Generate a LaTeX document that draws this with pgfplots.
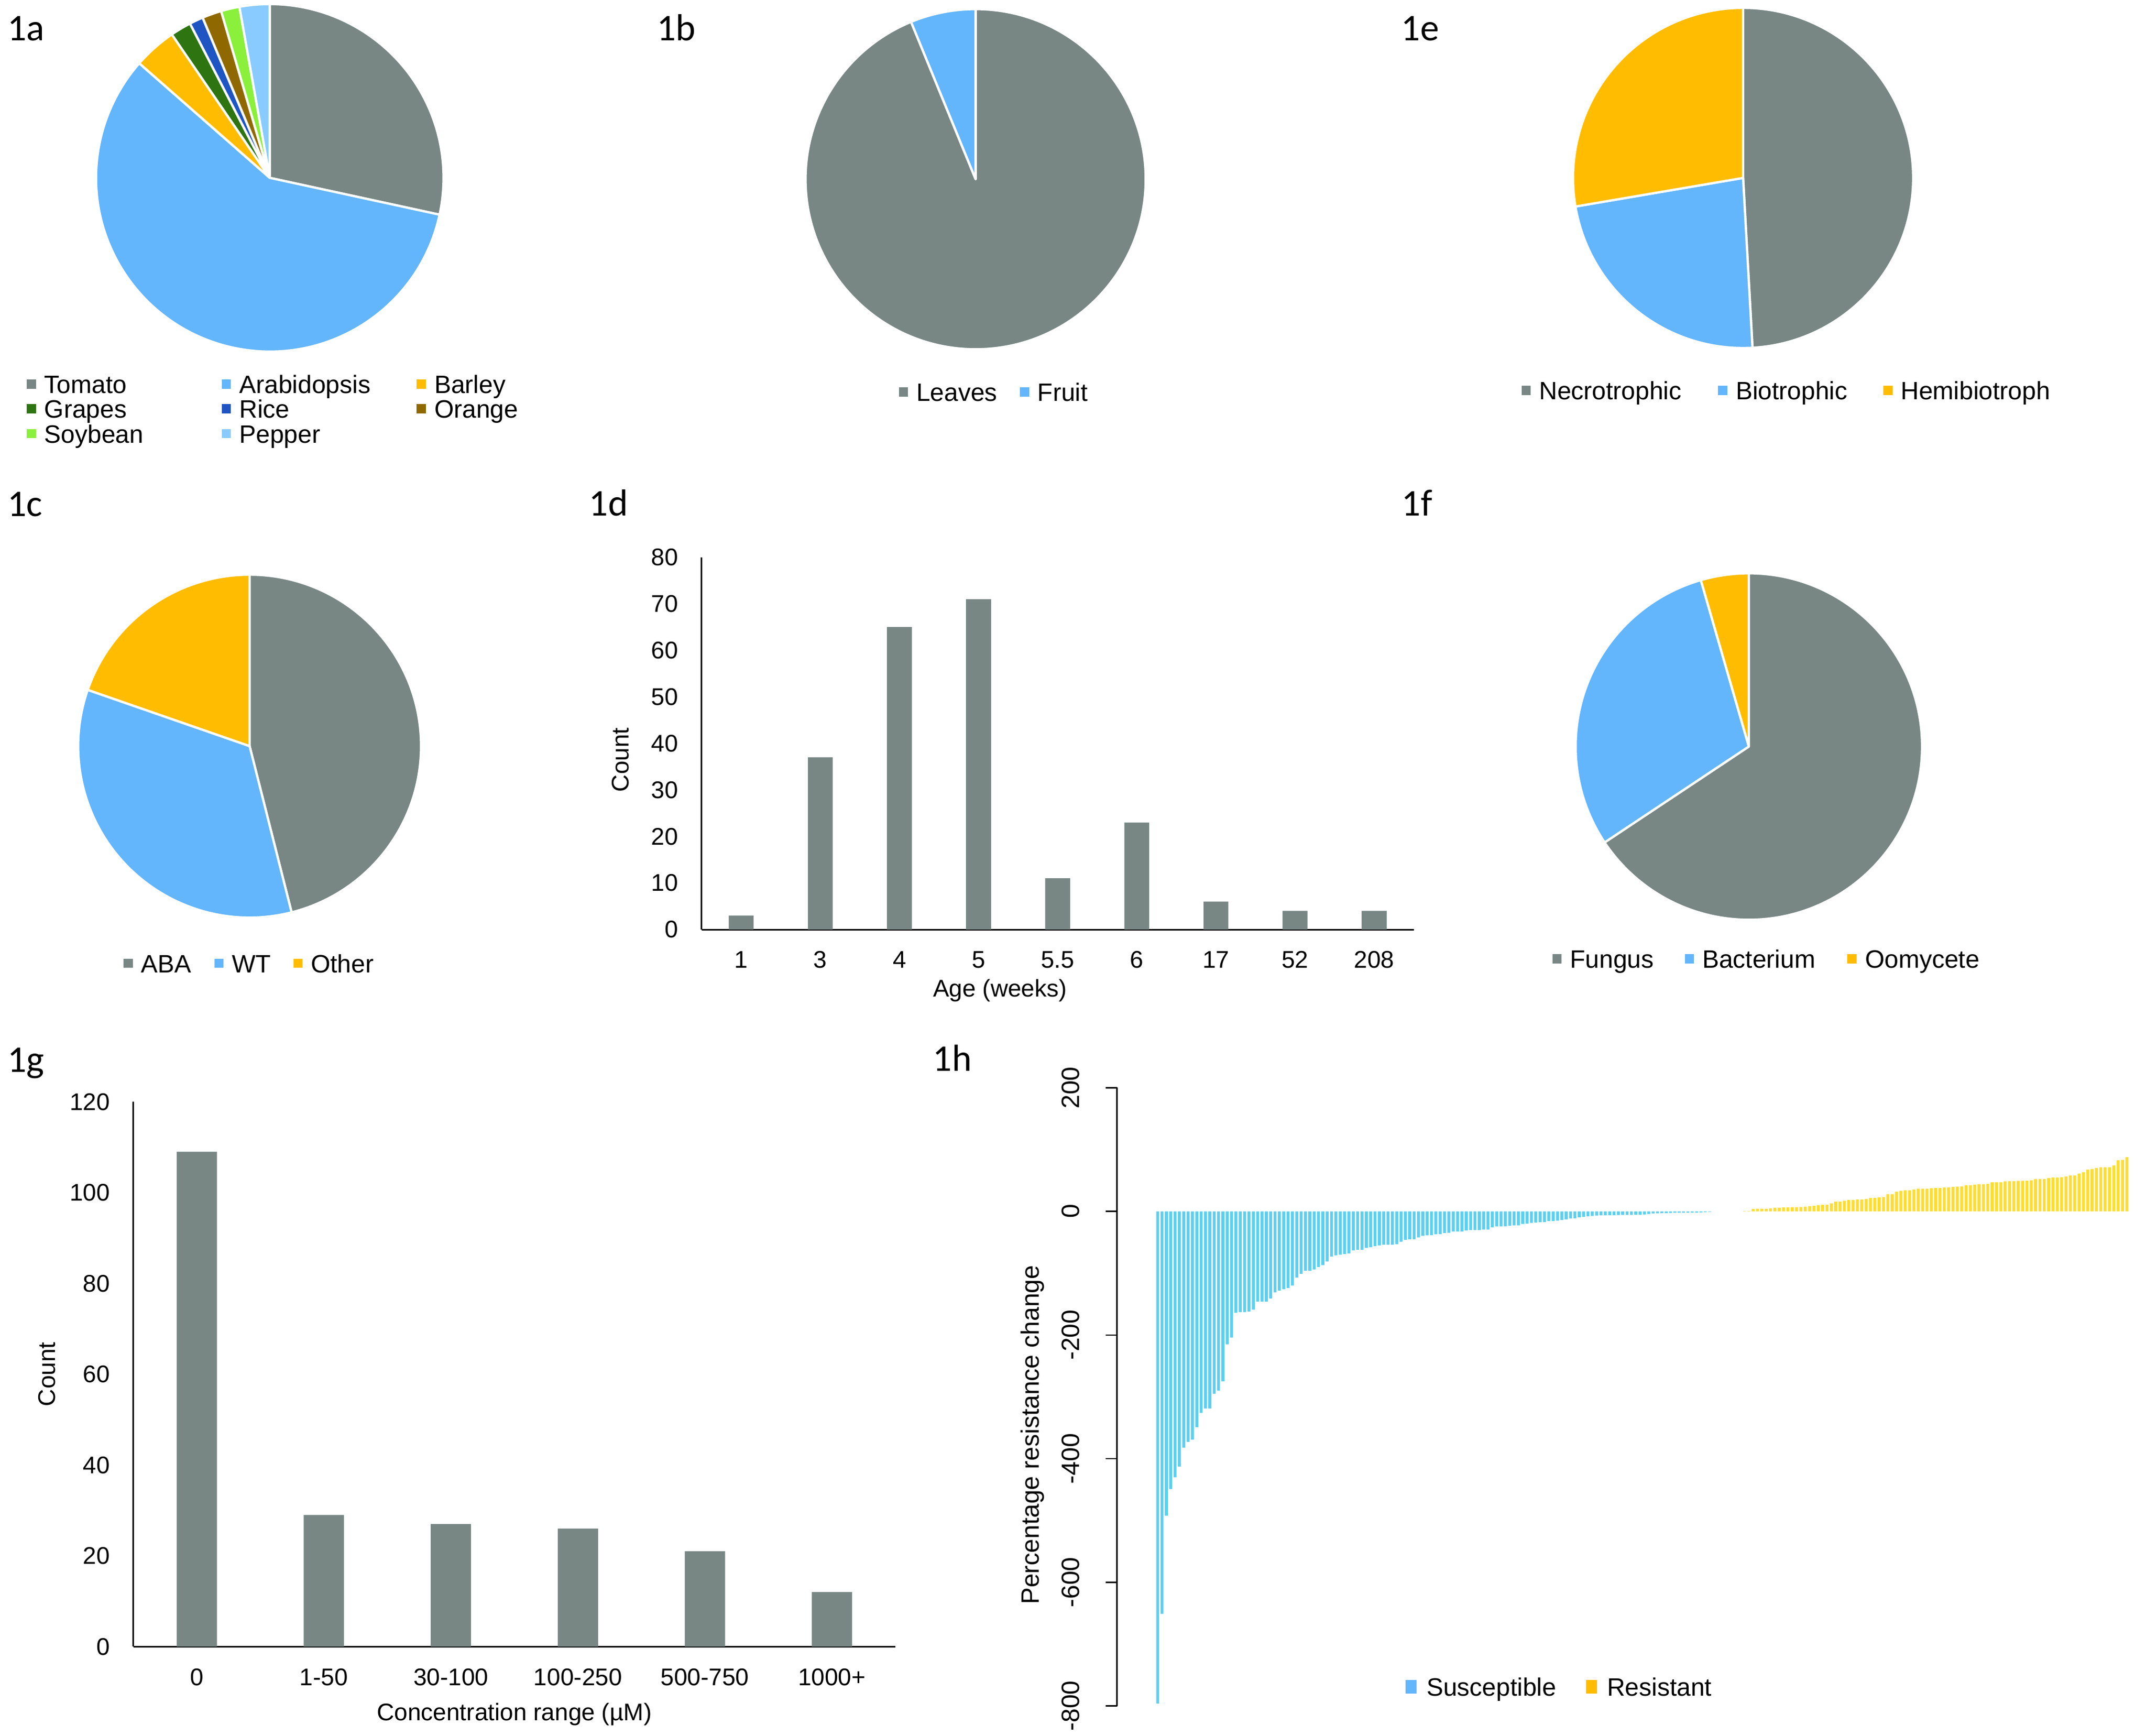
\documentclass[border=0pt]{standalone}
\usepackage{fontspec}
\setmainfont{Liberation Sans}
\newfontfamily\panelfont{Carlito}
\usepackage{pgfplots}
\pgfplotsset{compat=1.18}

\definecolor{cgray}{RGB}{120,135,132}
\definecolor{cblue}{RGB}{99,181,252}
\definecolor{camber}{RGB}{255,188,0}
\definecolor{cgreen}{RGB}{46,117,18}
\definecolor{crice}{RGB}{30,85,195}
\definecolor{cbrown}{RGB}{143,105,0}
\definecolor{csoy}{RGB}{138,240,60}
\definecolor{cpepper}{RGB}{138,203,255}
\definecolor{hblue}{RGB}{92,208,240}
\definecolor{hyellow}{RGB}{253,221,50}

% one pie slice, clockwise from \piestart: \pieslice{radius}{percent}{colour}
\newcommand\pieslice[3]{%
  \pgfmathsetmacro\pieend{\piestart-3.6*#2}%
  \edef\temp{\noexpand\fill[#3,draw=white,line width=1.1pt,line join=round]
    (axis cs:0,0) -- ++(\piestart:#1) arc[start angle=\piestart,end angle=\pieend,radius=#1] -- cycle;}%
  \temp
  \global\let\piestart\pieend}
% legend text of fixed width, with a strut centred on the capitals
\newcommand\lt[2]{\makebox[#1][l]{\rule[-1.75pt]{0pt}{12.1pt}#2}}
\newcommand\lf{\rule[-1.75pt]{0pt}{12.1pt}}
\newcommand\panel{\panelfont\fontsize{18}{20}\selectfont}

\pgfplotsset{
  pie/.style={hide axis, scale only axis, xmin=-1, xmax=1, ymin=-1, ymax=1, clip=false,
    legend cell align=left,
    legend style={draw=none, fill=none, inner sep=0pt, row sep=0pt, nodes={inner sep=0pt},
      /tikz/every odd column/.append style={column sep=4pt},
      font=\fontsize{12}{12.1}\selectfont},
    legend image code/.code={\fill[##1, draw=none] (0pt,-2.2pt) rectangle (4.4pt,2.2pt);}},
  excelbar/.style={scale only axis, axis x line*=bottom, axis y line*=left,
    axis line style={black, line width=0.75pt, -}, major tick length=0pt,
    ymin=0, enlargelimits=false,
    /pgf/number format/assume math mode=true,
    tick label style={font=\fontsize{11.5}{13}\selectfont, inner sep=0pt},
    label style={font=\fontsize{11.5}{13}\selectfont},
    yticklabel style={anchor=east, xshift=-11pt},
    xticklabel style={anchor=center, yshift=-14.5pt},
    ylabel style={anchor=center}, xlabel style={anchor=center}},
}

\begin{document}
\begin{tikzpicture}
\useasboundingbox (0,0) rectangle (1025.25pt,-829.25pt);

% panel letters
\node[anchor=base west, font=\panel] at (0pt,-19.4pt) {1a};
\node[anchor=base west, font=\panel] at (310.3pt,-19.4pt) {1b};
\node[anchor=base west, font=\panel] at (665.9pt,-19.4pt) {1e};
\node[anchor=base west, font=\panel] at (0pt,-246.5pt) {1c};
\node[anchor=base west, font=\panel] at (277.9pt,-246.25pt) {1d};
\node[anchor=base west, font=\panel] at (666.1pt,-246.25pt) {1f};
\node[anchor=base west, font=\panel] at (0pt,-512pt) {1g};
\node[anchor=base west, font=\panel] at (442.1pt,-511.5pt) {1h};

% 1a  host species (percent)
\begin{axis}[pie, at={(128.9pt,-84.95pt)}, anchor=center, width=166pt, height=166pt,
  legend columns=3, legend style={at={(-0.2005,-0.0566)}, anchor=north west}]
\gdef\piestart{90}
\pieslice{83pt}{28.4}{cgray}
\pieslice{83pt}{58.06}{cblue}
\pieslice{83pt}{4.0}{camber}
\pieslice{83pt}{1.94}{cgreen}
\pieslice{83pt}{1.28}{crice}
\pieslice{83pt}{1.8}{cbrown}
\pieslice{83pt}{1.72}{csoy}
\pieslice{83pt}{2.8}{cpepper}
\addlegendimage{fill=cgray}\addlegendentry{\lt{84.75pt}{Tomato}}
\addlegendimage{fill=cblue}\addlegendentry{\lt{84.75pt}{Arabidopsis}}
\addlegendimage{fill=camber}\addlegendentry{\lf Barley}
\addlegendimage{fill=cgreen}\addlegendentry{\lt{84.75pt}{Grapes}}
\addlegendimage{fill=crice}\addlegendentry{\lt{84.75pt}{Rice}}
\addlegendimage{fill=cbrown}\addlegendentry{\lf Orange}
\addlegendimage{fill=csoy}\addlegendentry{\lt{84.75pt}{Soybean}}
\addlegendimage{fill=cpepper}\addlegendentry{\lt{84.75pt}{Pepper}}
\end{axis}

% 1b  tissue
\begin{axis}[pie, at={(466.1pt,-85.6pt)}, anchor=center, width=162.5pt, height=162.5pt,
  legend columns=2, legend style={at={(0.2728,-0.1255)}, anchor=west}]
\gdef\piestart{90}
\pieslice{81.25pt}{93.8}{cgray}
\pieslice{81.25pt}{6.2}{cblue}
\addlegendimage{fill=cgray}\addlegendentry{\lt{49.5pt}{Leaves}}
\addlegendimage{fill=cblue}\addlegendentry{\lf Fruit}
\end{axis}

% 1e  lifestyle
\begin{axis}[pie, at={(832.75pt,-85pt)}, anchor=center, width=162.5pt, height=162.5pt,
  legend columns=3, legend style={at={(-0.1523,-0.1246)}, anchor=west}]
\gdef\piestart{90}
\pieslice{81.25pt}{49.12}{cgray}
\pieslice{81.25pt}{23.19}{cblue}
\pieslice{81.25pt}{27.69}{camber}
\addlegendimage{fill=cgray}\addlegendentry{\lt{85.5pt}{Necrotrophic}}
\addlegendimage{fill=cblue}\addlegendentry{\lt{70.5pt}{Biotrophic}}
\addlegendimage{fill=camber}\addlegendentry{\lf Hemibiotroph}
\end{axis}

% 1c  genotype
\begin{axis}[pie, at={(119.25pt,-356.4pt)}, anchor=center, width=163.8pt, height=163.8pt,
  legend columns=3, legend style={at={(0.1308,-0.1335)}, anchor=west}]
\gdef\piestart{90}
\pieslice{81.9pt}{46.06}{cgray}
\pieslice{81.9pt}{34.26}{cblue}
\pieslice{81.9pt}{19.68}{camber}
\addlegendimage{fill=cgray}\addlegendentry{\lt{35pt}{ABA}}
\addlegendimage{fill=cblue}\addlegendentry{\lt{29.4pt}{WT}}
\addlegendimage{fill=camber}\addlegendentry{\lf Other}
\end{axis}

% 1f  pathogen type
\begin{axis}[pie, at={(835.5pt,-356.6pt)}, anchor=center, width=165.5pt, height=165.5pt,
  legend columns=3, legend style={at={(-0.068,-0.1127)}, anchor=west}]
\gdef\piestart{90}
\pieslice{82.75pt}{65.66}{cgray}
\pieslice{82.75pt}{29.87}{cblue}
\pieslice{82.75pt}{4.47}{camber}
\addlegendimage{fill=cgray}\addlegendentry{\lt{54.8pt}{Fungus}}
\addlegendimage{fill=cblue}\addlegendentry{\lt{69.3pt}{Bacterium}}
\addlegendimage{fill=camber}\addlegendentry{\lf Oomycete}
\end{axis}

% 1d  age
\begin{axis}[excelbar, at={(335.2pt,-444pt)}, anchor=south west, width=340.2pt, height=177.8pt,
  xmin=0.5, xmax=9.5, ymax=80, ytick={0,10,...,80},
  xtick={1,...,9}, xticklabels={1,3,4,5,5.5,6,17,52,208},
  xlabel={Age (weeks)}, ylabel={Count},
  xlabel style={at={(axis description cs:0.419,-0.164)}},
  ylabel style={at={(axis description cs:-0.114,0.456)}}]
\addplot[ybar, bar width=0.315, bar shift=0pt, fill=cgray, draw=none]
  coordinates {(1,3) (2,37) (3,65) (4,71) (5,11) (6,23) (7,6) (8,4) (9,4)};
\end{axis}

% 1g  concentration
\begin{axis}[excelbar, at={(63.7pt,-786.55pt)}, anchor=south west, width=364.1pt, height=260.25pt,
  xmin=0.5, xmax=6.5, ymax=120, ytick={0,20,...,120},
  xtick={1,...,6}, xticklabels={0,1-50,30-100,100-250,500-750,1000+},
  xlabel={Concentration range (µM)}, ylabel={Count},
  xlabel style={at={(axis description cs:0.5,-0.124)}},
  ylabel style={at={(axis description cs:-0.1136,0.5)}}]
\addplot[ybar, bar width=0.317, bar shift=0pt, fill=cgray, draw=none]
  coordinates {(1,109) (2,29) (3,27) (4,26) (5,21) (6,12)};
\end{axis}

% 1h  resistance change per study
\begin{axis}[at={(533.65pt,-814.9pt)}, anchor=south west, scale only axis,
  width=486.6pt, height=295.3pt,
  xmin=-8.36, xmax=226, ymin=-800, ymax=200,
  hide x axis, axis y line*=left,
  axis line style={black, line width=0.6pt, -},
  ytick={-800,-600,-400,-200,0,200}, yticklabels={-800,-600,-400,-200,0,200},
  tick align=outside, major tick length=5.5pt, tick style={black, line width=0.6pt},
  yticklabel style={xshift=-12.15pt, rotate=90, anchor=south, inner sep=0pt,
    font=\fontsize{12}{13}\selectfont},
  ylabel={Percentage resistance change},
  ylabel style={at={(axis description cs:-0.083,0.4384)}, anchor=center,
    font=\fontsize{12}{13}\selectfont},
  legend columns=2, legend cell align=left,
  legend style={at={(0.2828,0.0309)}, anchor=west, draw=none, fill=none, inner sep=0pt,
    nodes={inner sep=0pt}, /tikz/every odd column/.append style={column sep=4.75pt},
    font=\fontsize{12}{12.1}\selectfont},
  legend image code/.code={\fill[#1, draw=none] (0pt,-3.25pt) rectangle (5.3pt,3.25pt);}]
\addplot[ybar, bar width=0.68, bar shift=0pt, fill=hblue, draw=none, forget plot] coordinates {
 (1,-796) (2,-651) (3,-492) (4,-449) (5,-430) (6,-413) (7,-382) (8,-373) (9,-369) (10,-349)
 (11,-326) (12,-319) (13,-319) (14,-295) (15,-290) (16,-275) (17,-215) (18,-204) (19,-164) (20,-163)
 (21,-163) (22,-162) (23,-159) (24,-146) (25,-146) (26,-146) (27,-141) (28,-131) (29,-128) (30,-126)
 (31,-124) (32,-120) (33,-107) (34,-101) (35,-96) (36,-96) (37,-94) (38,-90) (39,-87) (40,-81)
 (41,-73) (42,-71) (43,-70) (44,-69) (45,-68) (46,-63) (47,-62) (48,-62) (49,-59) (50,-58)
 (51,-56) (52,-55) (53,-54) (54,-54) (55,-54) (56,-53) (57,-49) (58,-46) (59,-45) (60,-45)
 (61,-42) (62,-39.5) (63,-38.7) (64,-38.4) (65,-37) (66,-36.7) (67,-35) (68,-34.7) (69,-32.5) (70,-32.5)
 (71,-32.5) (72,-30.8) (73,-30.3) (74,-30.3) (75,-30.3) (76,-29.4) (77,-29.4) (78,-25.8) (79,-24.4) (80,-24.4)
 (81,-24.1) (82,-23.2) (83,-22.7) (84,-22.7) (85,-20.2) (86,-19.9) (87,-18.5) (88,-17.9) (89,-17.6) (90,-17.4)
 (91,-15.7) (92,-15.4) (93,-15.1) (94,-14) (95,-12.9) (96,-11.5) (97,-11.2) (98,-9.5) (99,-8.7) (100,-7.8)
 (101,-7.3) (102,-6.7) (103,-6.4) (104,-6.4) (105,-6.2) (106,-6.2) (107,-5.9) (108,-5.6) (109,-5.6) (110,-5.6)
 (111,-5.3) (112,-5.3) (113,-5) (114,-4.2) (115,-3.4) (116,-3.1) (117,-2.8) (118,-2.8) (119,-2.5) (120,-2.2)
 (121,-2.2) (122,-2) (123,-2) (124,-1.8) (125,-1.8) (126,-1.6) (127,-1.2) (128,-0.8)
};
\addplot[ybar, bar width=0.68, bar shift=0pt, fill=hyellow, draw=none, forget plot] coordinates {
 (136,0.6) (137,0.6) (138,3.9) (139,4.2) (140,4.2) (141,4.2) (142,4.8) (143,5.9) (144,5.9) (145,6.4)
 (146,6.4) (147,6.7) (148,6.7) (149,7) (150,7.6) (151,8.4) (152,9.2) (153,10.1) (154,10.6) (155,10.6)
 (156,12.9) (157,16) (158,16) (159,17.1) (160,18.5) (161,18.5) (162,19.3) (163,19.3) (164,20.2) (165,21.8)
 (166,21.8) (167,22.4) (168,23) (169,28) (170,28) (171,31.7) (172,33.3) (173,34) (174,34) (175,35.3)
 (176,36.7) (177,36.7) (178,36.7) (179,37.5) (180,37.8) (181,37.8) (182,38.7) (183,38.7) (184,39.5) (185,40.1)
 (186,40.3) (187,42.3) (188,42.3) (189,43.1) (190,44) (191,44) (192,44.5) (193,47.1) (194,47.3) (195,47.3)
 (196,48.5) (197,48.7) (198,48.7) (199,49.3) (200,49.3) (201,49.6) (202,50.1) (203,52.1) (204,52.4) (205,52.4)
 (206,53.8) (207,54.6) (208,54.6) (209,55.2) (210,56.6) (211,58) (212,58) (213,61.1) (214,63.6) (215,67.8)
 (216,68.6) (217,70.3) (218,71.4) (219,71.4) (220,71.4) (221,74.5) (222,82.6) (223,83.2) (224,87.7)
};
\addlegendimage{fill=cblue}\addlegendentry{\lt{76.2pt}{Susceptible}}
\addlegendimage{fill=camber}\addlegendentry{\lf Resistant}
\end{axis}
\end{tikzpicture}
\end{document}
